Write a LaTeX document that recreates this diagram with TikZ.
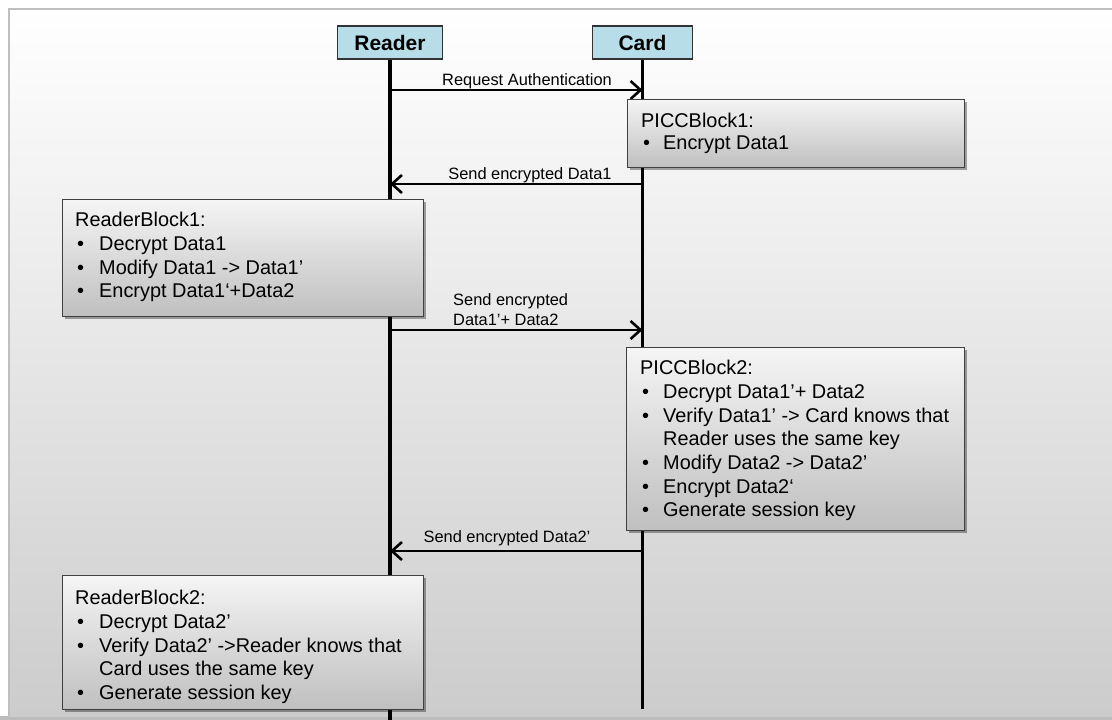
\documentclass[tikz,border=0pt]{standalone}
\usepackage{fontspec}
\setmainfont{Liberation Sans}
\usetikzlibrary{arrows.meta,shadows}

\definecolor{headcyan}{HTML}{B7DEE8}
\newcommand\boxfont{\fontsize{19.9pt}{23.7pt}\selectfont}
\newcommand\labelfont{\fontsize{16.4pt}{20pt}\selectfont}
\newcommand\headfont{\fontsize{21pt}{24pt}\selectfont\bfseries}
\newcommand\bul{\hspace{2pt}\textbullet}

\tikzset{
  head/.style={draw=black!80, line width=1.2pt, fill=headcyan, font=\headfont,
    minimum width=105pt, minimum height=33pt, inner sep=0pt},
  lifeline/.style={line width=3.2pt},
  msg/.style={line width=2.6pt,
    -{Straight Barb[length=10pt,width=18pt,line width=2.6pt]}},
  msglabel/.style={font=\labelfont, inner sep=0pt},
  blockbox/.style={draw=black!75, line width=1.2pt, top color=gray!8,
    bottom color=gray!50, anchor=north west, inner sep=0pt,
    drop shadow={shadow xshift=2.5pt, shadow yshift=-2.5pt, opacity=0.35, fill=black}},
  blocktext/.style={anchor=north west, inner sep=0pt, font=\boxfont},
}

\begin{document}
\begin{tikzpicture}[x=1pt,y=-1pt]
\useasboundingbox (0,0) rectangle (1112,720);

% page background with its frame
\fill[gray!52] (0,716) rectangle (1112,720);
\shade[top color=white, bottom color=gray!40] (9,9) rectangle (1125,716);
\draw[gray!50, line width=1.5pt] (9,716) -- (9,9) -- (1125,9);

% participants and lifelines
\node[head] (reader) at (390,42.5) {Reader};
\node[head, minimum width=100pt] (card) at (642.5,42.5) {Card};
\coordinate (readerend) at (390,720);
\coordinate (cardend) at (642.5,709);
\draw[lifeline] (reader.south) -- (readerend);
\draw[lifeline] (card.south) -- (cardend);

% message end points on the lifelines
\coordinate (r1) at (390,90);   \coordinate (c1) at (642.5,90);
\coordinate (r2) at (390,184);  \coordinate (c2) at (642.5,184);
\coordinate (r3) at (390,330);  \coordinate (c3) at (642.5,330);
\coordinate (r4) at (390,551);  \coordinate (c4) at (642.5,551);

\draw[msg] (r1) -- (c1);
\draw[msg] (c2) -- (r2);
\draw[msg] (r3) -- (c3);
\draw[msg] (c4) -- (r4);

\node[msglabel] (lab1) at (527,81) {Request Authentication};
\node[msglabel] (lab2) at (530,175) {Send encrypted Data1};
\node[msglabel, align=left, anchor=west] (lab3) at (453,310) {Send encrypted\\Data1’+ Data2};
\node[msglabel] (lab4) at (507,538) {Send encrypted Data2’};

% processing blocks
\node[blockbox, minimum width=337pt, minimum height=68pt] (piccb1) at (627,99) {};
\node[blocktext] (piccb1text) at (641,112) {%
  \renewcommand\arraystretch{0.92}%
  \begin{tabular}{@{}p{22pt}@{}l@{}}
  \multicolumn{2}{@{}l@{}}{PICCBlock1:}\\
  \bul & Encrypt Data1
  \end{tabular}};

\node[blockbox, minimum width=361pt, minimum height=117pt] (readerb1) at (62,199) {};
\node[blocktext] (readerb1text) at (75,210) {%
  \begin{tabular}{@{}p{24pt}@{}l@{}}
  \multicolumn{2}{@{}l@{}}{ReaderBlock1:}\\
  \bul & Decrypt Data1\\
  \bul & Modify Data1 -> Data1’\\
  \bul & Encrypt Data1‘+Data2
  \end{tabular}};

\node[blockbox, minimum width=338pt, minimum height=183pt] (piccb2) at (626,347) {};
\node[blocktext] (piccb2text) at (640,358) {%
  \begin{tabular}{@{}p{23pt}@{}l@{}}
  \multicolumn{2}{@{}l@{}}{PICCBlock2:}\\
  \bul & Decrypt Data1’+ Data2\\
  \bul & Verify Data1’ -> Card knows that\\
       & Reader uses the same key\\
  \bul & Modify Data2 -> Data2’\\
  \bul & Encrypt Data2‘\\
  \bul & Generate session key
  \end{tabular}};

\node[blockbox, minimum width=361pt, minimum height=134pt] (readerb2) at (62,575) {};
\node[blocktext] (readerb2text) at (75,588) {%
  \begin{tabular}{@{}p{24pt}@{}l@{}}
  \multicolumn{2}{@{}l@{}}{ReaderBlock2:}\\
  \bul & Decrypt Data2’\\
  \bul & Verify Data2’ ->Reader knows that\\
       & Card uses the same key\\
  \bul & Generate session key
  \end{tabular}};
\end{tikzpicture}
\end{document}
